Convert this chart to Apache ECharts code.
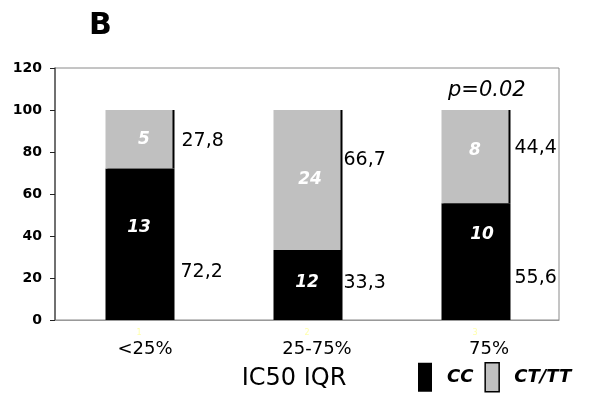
<!DOCTYPE html>
<html><head><meta charset="utf-8">
<script src="https://cdn.jsdelivr.net/npm/echarts@6/dist/echarts.min.js"></script>
<style>html,body{margin:0;padding:0;background:#fff}#chart{width:591px;height:398px}</style>
</head><body><div id="chart"></div>
<script>
// Genotype distribution by IC50 interquartile group
const categories = ['<25%', '25-75%', '75%'];
const ccPercent = [72.2, 33.3, 55.6];
const ctttPercent = [27.8, 66.7, 44.4];
const ccCount = [13, 12, 10];
const ctttCount = [5, 24, 8];
const yMin = 0, yMax = 120, yStep = 20;

// small pixel nudges for the labels
const ccCountNudge = [[0, -17], [0, -2], [7, -27]];
const ctttCountNudge = [[5, 0], [3, 0], [0, -6]];
const ccPctNudge = [[5, 28], [0, -2], [3, 16]];
const ctttPctNudge = [[6, 2], [0, -20], [3, -9]];

const FONT = 'DejaVu Sans';
const BAR_W = 67;

const countLabel = {
  show: true, position: 'inside', color: '#fff', fontFamily: FONT,
  fontSize: 17, fontWeight: 'bold', fontStyle: 'italic'
};
const pctLabel = {
  show: true, position: 'right', distance: 3, color: '#000', fontFamily: FONT, fontSize: 19
};

function withNudge(values, texts, nudges) {
  return values.map((v, i) => ({ value: v, label: { offset: nudges[i], formatter: String(texts[i]) } }));
}

const chart = echarts.init(document.getElementById('chart'), null, { renderer: 'canvas' });
chart.setOption({
  animation: false,
  backgroundColor: '#fff',
  title: [
    { text: 'B', left: 89, top: 11, padding: 0, textStyle: { fontFamily: FONT, fontSize: 30, fontWeight: 'bold', color: '#000' } },
    { text: 'p=0.02', left: 448, top: 80, padding: 0, textStyle: { fontFamily: FONT, fontSize: 21, fontWeight: 'normal', fontStyle: 'italic', color: '#000' } }
  ],
  grid: {
    left: 55, right: 32, top: 68, bottom: 78, show: true, borderColor: '#8a8a8a', borderWidth: 1,
    containLabel: false, outerBoundsMode: 'none'
  },
  legend: {
    left: 418, top: 362, padding: 0, itemWidth: 14, itemHeight: 29, itemGap: 11, icon: 'rect',
    textStyle: { fontFamily: FONT, fontSize: 18, fontWeight: 'bold', fontStyle: 'italic', color: '#000', padding: [0, 0, 0, 10] },
    data: [
      { name: 'CC', itemStyle: { color: '#000', borderWidth: 0, shadowBlur: 0, shadowOffsetX: 0 } },
      { name: 'CT/TT', itemStyle: { color: '#c0c0c0', borderColor: '#000', borderWidth: 1.5, shadowBlur: 0, shadowOffsetX: 0 } }
    ]
  },
  xAxis: {
    type: 'category', data: categories,
    name: 'IC50 IQR', nameLocation: 'middle', nameGap: 47,
    nameTextStyle: { fontFamily: FONT, fontSize: 24, color: '#000', padding: [0, 26, 0, 0] },
    axisLine: { lineStyle: { color: '#999', width: 1 } },
    axisTick: { show: false },
    axisLabel: {
      margin: 8, interval: 0,
      formatter: (v, i) => `{n|${i + 1}}\n{c${i}|${v}}`,
      rich: {
        n: { fontFamily: FONT, fontSize: 8, color: '#ffffaa', lineHeight: 10 },
        c0: { fontFamily: FONT, fontSize: 18, color: '#000', lineHeight: 22, padding: [0, 0, 0, 12] },
        c1: { fontFamily: FONT, fontSize: 18, color: '#000', lineHeight: 22, padding: [0, 0, 0, 20] },
        c2: { fontFamily: FONT, fontSize: 18, color: '#000', lineHeight: 22, padding: [0, 0, 0, 28] }
      }
    }
  },
  yAxis: {
    type: 'value', min: yMin, max: yMax, interval: yStep,
    axisLine: { show: true, lineStyle: { color: '#555', width: 1.5 } },
    axisTick: { show: true, length: 5, lineStyle: { color: '#222' } },
    splitLine: { show: false },
    axisLabel: { margin: 13, fontFamily: FONT, fontSize: 14, fontWeight: 'bold', color: '#000' }
  },
  series: [
    {
      name: 'CC', type: 'bar', stack: 'share', barWidth: BAR_W, barGap: '-100%',
      itemStyle: { color: '#000', shadowColor: '#000', shadowBlur: 0, shadowOffsetX: 2 },
      label: countLabel,
      data: withNudge(ccPercent, ccCount, ccCountNudge)
    },
    {
      name: 'CT/TT', type: 'bar', stack: 'share', barWidth: BAR_W, barGap: '-100%',
      itemStyle: { color: '#c0c0c0', shadowColor: '#000', shadowBlur: 0, shadowOffsetX: 2 },
      label: countLabel,
      data: withNudge(ctttPercent, ctttCount, ctttCountNudge)
    },
    {
      name: 'CC %', type: 'bar', stack: 'pct', barWidth: BAR_W, barGap: '-100%', silent: true,
      itemStyle: { color: 'rgba(0,0,0,0)' },
      label: pctLabel,
      data: withNudge(ccPercent, ccPercent.map(v => v.toFixed(1).replace('.', ',')), ccPctNudge)
    },
    {
      name: 'CT/TT %', type: 'bar', stack: 'pct', barWidth: BAR_W, barGap: '-100%', silent: true,
      itemStyle: { color: 'rgba(0,0,0,0)' },
      label: pctLabel,
      data: withNudge(ctttPercent, ctttPercent.map(v => v.toFixed(1).replace('.', ',')), ctttPctNudge)
    }
  ]
});
</script>
</body></html>
